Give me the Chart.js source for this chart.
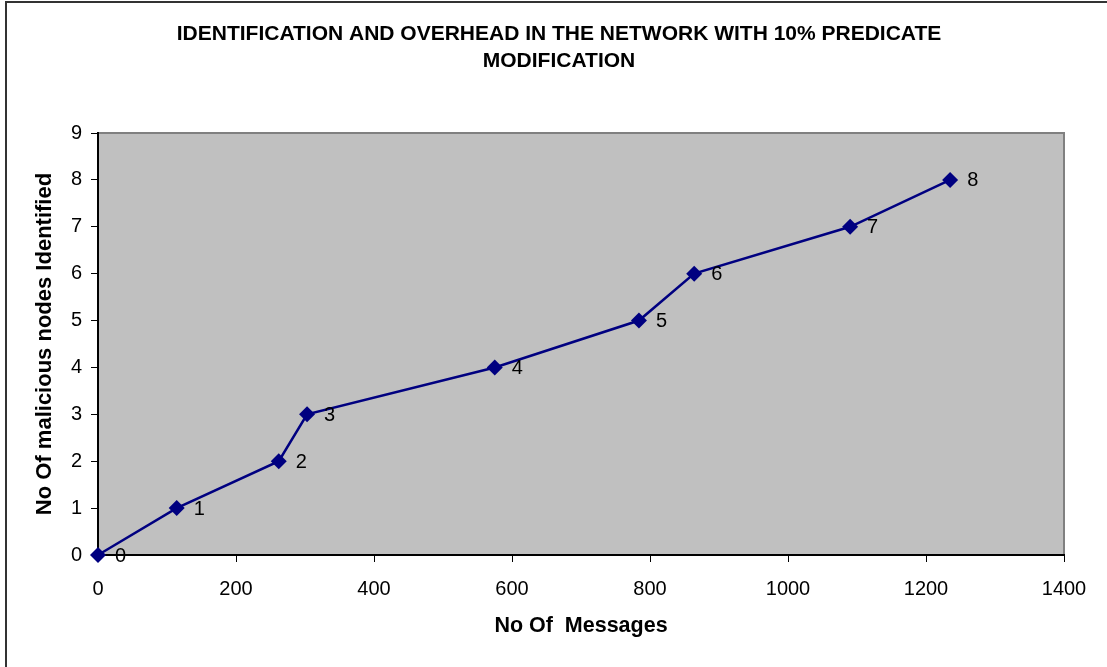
<!DOCTYPE html>
<html>
<head>
<meta charset="utf-8">
<script src="https://cdn.jsdelivr.net/npm/chart.js@4/dist/chart.umd.min.js"></script>
<style>
  html, body { margin: 0; padding: 0; background: #fff; }
  #chart { display: block; }
</style>
</head>
<body>
<canvas id="chart" width="1107" height="667"></canvas>
<script>
// values
const messages = [0, 114, 262, 303, 575, 784, 864, 1090, 1235];
const nodesIdentified = [0, 1, 2, 3, 4, 5, 6, 7, 8];
const titleLines = ['IDENTIFICATION AND OVERHEAD IN THE NETWORK WITH 10% PREDICATE', 'MODIFICATION'];
const xTitle = 'No Of  Messages';
const yTitle = 'No Of malicious nodes Identified';

const FONT = "Arial, 'Liberation Sans', sans-serif";

// gray plot background, plot border and the frame around the whole picture
const plotArea = {
    id: 'plotArea',
    beforeDraw(chart) {
        const { ctx, chartArea: a } = chart;
        ctx.save();
        ctx.fillStyle = '#c0c0c0';
        ctx.fillRect(a.left, a.top, a.right - a.left, a.bottom - a.top);
        ctx.strokeStyle = '#808080';
        ctx.lineWidth = 2;
        ctx.beginPath();
        ctx.moveTo(a.left, a.top);
        ctx.lineTo(a.right, a.top);
        ctx.lineTo(a.right, a.bottom);
        ctx.stroke();
        // outer frame (only top and left edges are visible)
        ctx.strokeStyle = '#333';
        ctx.lineWidth = 2;
        ctx.beginPath();
        ctx.moveTo(6, 667);
        ctx.lineTo(6, 2);
        ctx.lineTo(1107, 2);
        ctx.stroke();
        ctx.restore();
    }
};

// chart title, two lines, centred a bit right of the canvas middle
const chartTitle = {
    id: 'chartTitle',
    afterDraw(chart) {
        const { ctx } = chart;
        ctx.save();
        ctx.font = 'bold 21px ' + FONT;
        ctx.fillStyle = '#000';
        ctx.textAlign = 'center';
        ctx.textBaseline = 'middle';
        titleLines.forEach((line, i) => ctx.fillText(line, 559, 34 + i * 27));
        ctx.restore();
    }
};

// value labels to the right of each point
const pointLabels = {
    id: 'pointLabels',
    afterDatasetsDraw(chart) {
        const { ctx } = chart;
        const meta = chart.getDatasetMeta(0);
        ctx.save();
        ctx.font = '20px ' + FONT;
        ctx.fillStyle = '#000';
        ctx.textAlign = 'left';
        ctx.textBaseline = 'middle';
        meta.data.forEach((pt, i) => {
            ctx.fillText(String(nodesIdentified[i]), pt.x + 17, pt.y + 1);
        });
        ctx.restore();
    }
};

new Chart(document.getElementById('chart'), {
    type: 'line',
    data: {
        datasets: [{
            data: messages.map((m, i) => ({ x: m, y: nodesIdentified[i] })),
            borderColor: '#000080',
            backgroundColor: '#000080',
            borderWidth: 2.5,
            pointStyle: 'rectRot',
            pointRadius: 8,
            pointBorderWidth: 0,
            pointBackgroundColor: '#000080',
            tension: 0,
            clip: false
        }]
    },
    options: {
        responsive: false,
        animation: false,
        layout: { padding: { top: 133, right: 43, bottom: 0, left: 0 } },
        plugins: {
            legend: { display: false },
            tooltip: { enabled: false },
            title: { display: false }
        },
        scales: {
            x: {
                type: 'linear',
                min: 0,
                max: 1400,
                ticks: {
                    stepSize: 200,
                    color: '#000',
                    font: { family: FONT, size: 20 },
                    padding: 15,
                    maxRotation: 0,
                    callback: v => String(v)
                },
                grid: { drawOnChartArea: false, tickLength: 7, color: '#000' },
                border: { color: '#000', width: 2 },
                title: {
                    display: true,
                    text: xTitle,
                    color: '#000',
                    font: { family: FONT, size: 21.5, weight: 'bold' },
                    padding: { top: 0, bottom: 28 }
                },
                afterFit(scale) { scale.height = 112; }
            },
            y: {
                min: 0,
                max: 9,
                ticks: {
                    stepSize: 1,
                    color: '#000',
                    font: { family: FONT, size: 20 },
                    padding: 9
                },
                grid: { drawOnChartArea: false, tickLength: 7, color: '#000' },
                border: { color: '#000', width: 2 },
                title: {
                    display: true,
                    text: yTitle,
                    color: '#000',
                    font: { family: FONT, size: 22, weight: 'bold' },
                    padding: { top: 32, bottom: 0 }
                },
                afterFit(scale) { scale.width = 98; }
            }
        }
    },
    plugins: [plotArea, chartTitle, pointLabels]
});
</script>
</body>
</html>
